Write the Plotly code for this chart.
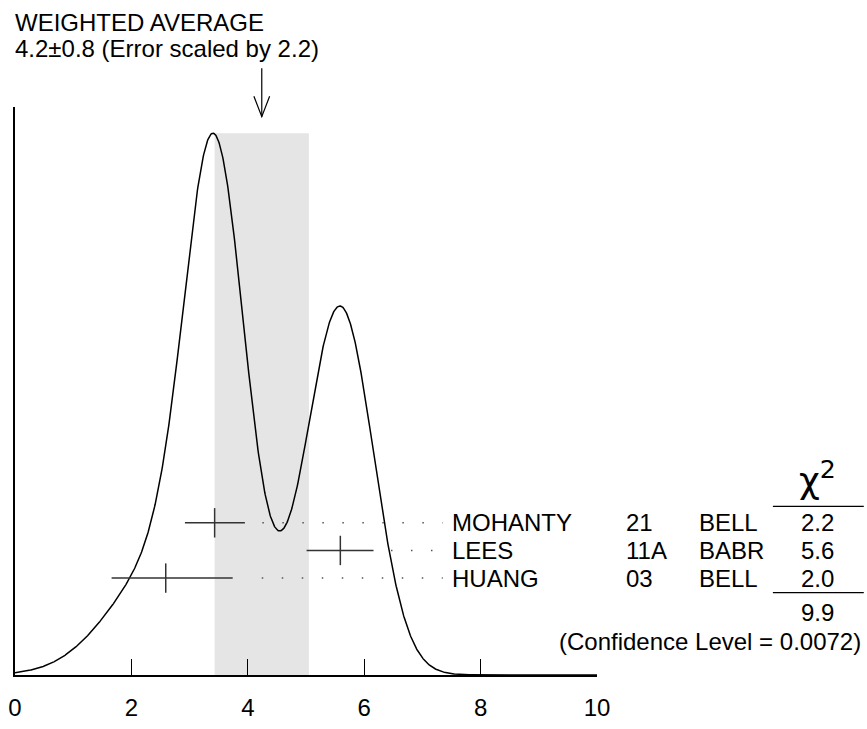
import numpy as np
import plotly.graph_objects as go

# ---------------- data ----------------
AUTHORS = ["MOHANTY", "LEES", "HUANG"]
YEARS = ["21", "11A", "03"]
EXPTS = ["BELL", "BABR", "BELL"]
VALUES = [3.43, 5.59, 2.59]
ERR_PLUS = [0.52, 0.57, 1.15]
ERR_MINUS = [0.51, 0.58, 0.93]
CHI2 = ["2.2", "5.6", "2.0"]
CHI2_TOTAL = "9.9"
CONF_LEVEL = "0.0072"
AVG_VALUE = 4.24
AVG_ERROR = 0.81
AVG_LABEL = "4.2\u00b10.8"
SCALE_FACTOR = "2.2"
X_TICKS = [0, 2, 4, 6, 8, 10]

# ---------------- layout geometry ----------------
W, H = 867, 729
L, R, T, B = 8, 270, 107, 36
PW, PH = W - L - R, H - T - B
FONT = "Liberation Sans, Arial, Helvetica, sans-serif"
FS = 24


def px(xpix):
    return (xpix - L) / PW


def py(ypix):
    return (H - B - ypix) / PH


# ideogram: each measurement a (bifurcated) Gaussian with area proportional to 1/error
xs = np.linspace(X_TICKS[0], X_TICKS[-1], 1201)
ys = np.zeros_like(xs)
for v, ep, em in zip(VALUES, ERR_PLUS, ERR_MINUS):
    savg = 0.5 * (ep + em)
    h = (1.0 / savg) * 2.0 / ((ep + em) * np.sqrt(2 * np.pi))
    sig = np.where(xs < v, em, ep)
    ys += h * np.exp(-0.5 * ((xs - v) / sig) ** 2)
ypeak = ys.max()
ymax = ypeak * PH / (H - B - 134)

n = len(VALUES)
rows = [n - 1 - i for i in range(n)]
ROW_PX = 28.5
y2_lo = -(H - B - 593) / ROW_PX
y2_hi = y2_lo + PH / ROW_PX

fig = go.Figure()

fig.add_trace(go.Scatter(x=xs, y=ys, mode="lines",
                         line=dict(color="black", width=1.5),
                         hoverinfo="skip", showlegend=False))

# dotted leaders
for v, ep, r in zip(VALUES, ERR_PLUS, rows):
    x0 = max(v + ep + 0.3, AVG_VALUE)
    fig.add_trace(go.Scatter(x=[x0, 7.35], y=[r, r], yaxis="y2",
                             mode="lines",
                             line=dict(color="#555555", width=1.5, dash="1.5px,18.5px"),
                             hoverinfo="skip", showlegend=False))

# measurements
fig.add_trace(go.Scatter(
    x=VALUES, y=rows, yaxis="y2", mode="markers",
    marker=dict(symbol="line-ns-open", size=21, color="#333333",
                line=dict(width=1.5, color="#333333")),
    error_x=dict(type="data", array=ERR_PLUS, arrayminus=ERR_MINUS, symmetric=False,
                 width=0, thickness=1.5, color="#333333"),
    hoverinfo="skip", showlegend=False))

shapes = [
    dict(type="rect", xref="x", yref="y", x0=AVG_VALUE - AVG_ERROR, x1=AVG_VALUE + AVG_ERROR,
         y0=0, y1=ypeak, fillcolor="#e5e5e5", line=dict(width=0), layer="below"),
    dict(type="line", xref="x", yref="paper", x0=AVG_VALUE, x1=AVG_VALUE,
         y0=py(67), y1=py(117), line=dict(color="black", width=1.2)),
    dict(type="path", xref="x", yref="paper",
         path=f"M {AVG_VALUE - 0.135},{py(96)} L {AVG_VALUE},{py(117)} L {AVG_VALUE + 0.135},{py(96)}",
         line=dict(color="black", width=1.2)),
    dict(type="line", xref="paper", yref="paper", x0=px(775), x1=px(867),
         y0=py(519), y1=py(519), line=dict(color="black", width=1.2)),
    dict(type="line", xref="paper", yref="paper", x0=px(775), x1=px(867),
         y0=py(608), y1=py(608), line=dict(color="black", width=1.2)),
]

ann = []
tf = dict(family=FONT, size=FS, color="black")
ann.append(dict(text="WEIGHTED AVERAGE", xref="paper", yref="paper", x=px(6), y=py(20),
                xanchor="left", yanchor="middle", showarrow=False, font=tf))
ann.append(dict(text=f"{AVG_LABEL} (Error scaled by {SCALE_FACTOR})", xref="paper", yref="paper",
                x=px(6), y=py(47), xanchor="left", yanchor="middle", showarrow=False, font=tf))
for a, yr, ex, c, r in zip(AUTHORS, YEARS, EXPTS, CHI2, rows):
    ann.append(dict(text=a, xref="paper", yref="y2", x=px(448), y=r, xanchor="left",
                    yanchor="middle", showarrow=False, font=tf))
    ann.append(dict(text=yr, xref="paper", yref="y2", x=px(624), y=r, xanchor="left",
                    yanchor="middle", showarrow=False, font=tf))
    ann.append(dict(text=ex, xref="paper", yref="y2", x=px(698), y=r, xanchor="left",
                    yanchor="middle", showarrow=False, font=tf))
    ann.append(dict(text=c, xref="paper", yref="y2", x=px(820), y=r, xanchor="center",
                    yanchor="middle", showarrow=False, font=tf))
ann.append(dict(text="\u03c7<sup>2</sup>", xref="paper", yref="paper", x=px(820), y=py(490),
                xanchor="center", yanchor="middle", showarrow=False,
                font=dict(family="DejaVu Sans, sans-serif", size=36, color="black")))
ann.append(dict(text=CHI2_TOTAL, xref="paper", yref="paper", x=px(820), y=py(629),
                xanchor="center", yanchor="middle", showarrow=False, font=tf))
ann.append(dict(text=f"(Confidence Level = {CONF_LEVEL})", xref="paper", yref="paper",
                x=px(866), y=py(658), xanchor="right", yanchor="middle", showarrow=False, font=tf))

fig.update_layout(
    width=W, height=H,
    margin=dict(l=L, r=R, t=T, b=B, pad=0),
    paper_bgcolor="white", plot_bgcolor="white",
    showlegend=False,
    xaxis=dict(range=[X_TICKS[0], X_TICKS[-1]], tickvals=X_TICKS,
               ticktext=[str(t) for t in X_TICKS],
               ticks="inside", ticklen=16, tickwidth=1.2, tickcolor="black",
               showline=True, linecolor="black", linewidth=1.5,
               showgrid=False, zeroline=False, tickfont=dict(family=FONT, size=FS, color="black"),
               ticklabelstandoff=10, fixedrange=True),
    yaxis=dict(range=[0, ymax], showline=True, linecolor="black", linewidth=1.5,
               showticklabels=False, ticks="", showgrid=False, zeroline=False, fixedrange=True),
    yaxis2=dict(range=[y2_lo, y2_hi], overlaying="y", visible=False, fixedrange=True),
    shapes=shapes,
    annotations=ann,
)

fig.write_html("out.html", config={"displayModeBar": False},
               post_script="document.body.style.margin='0px';")
